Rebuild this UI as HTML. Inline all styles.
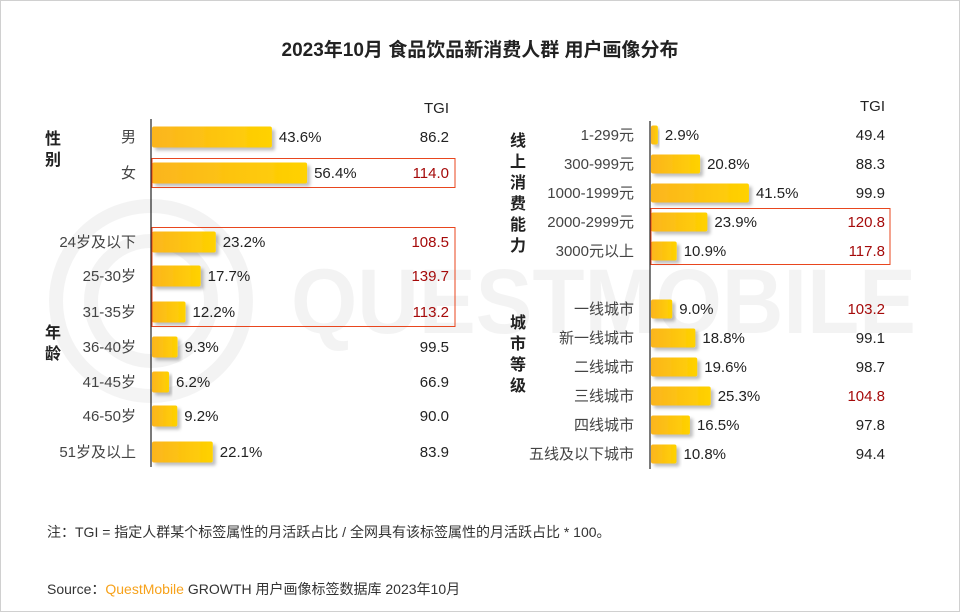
<!DOCTYPE html>
<html><head><meta charset="utf-8">
<style>
body{margin:0;background:#fff;}
#wrap{position:relative;width:958px;height:610px;border:1px solid #d0d0d0;overflow:hidden;font-family:"Liberation Sans","Noto Sans CJK SC",sans-serif;}
svg text{font-family:"Liberation Sans","Noto Sans CJK SC",sans-serif;}
</style></head>
<body>
<div id="wrap">
<svg id="chart" width="958" height="610">
<defs>
<linearGradient id="bg" x1="0" x2="1" y1="0" y2="0"><stop offset="0" stop-color="#fbb51f"/><stop offset="1" stop-color="#ffd200"/></linearGradient>
<filter id="sh" x="-10%" y="-20%" width="130%" height="160%"><feDropShadow dx="3" dy="3" stdDeviation="1.5" flood-color="#000" flood-opacity="0.25"/></filter>
</defs>
<g opacity="0.045">
<circle cx="150" cy="300" r="95" fill="none" stroke="#000" stroke-width="14"/>
<circle cx="150" cy="300" r="60" fill="none" stroke="#000" stroke-width="14"/>
<text x="290" y="332" font-size="92" fill="#000" font-weight="bold" textLength="625" lengthAdjust="spacingAndGlyphs">QUESTMOBILE</text>
</g>
<text x="479" y="55" text-anchor="middle" font-size="19" font-weight="bold" fill="#222">2023年10月 食品饮品新消费人群 用户画像分布</text>
<g id="plot"></g>
<text x="46" y="536" font-size="14" fill="#333">注：TGI = 指定人群某个标签属性的月活跃占比 / 全网具有该标签属性的月活跃占比 * 100。</text>
<text x="46" y="593" font-size="14" fill="#333">Source：<tspan fill="#f7a21b">QuestMobile</tspan> GROWTH 用户画像标签数据库 2023年10月</text>
</svg>
</div>
<script>
const leftCats=["男","女","24岁及以下","25-30岁","31-35岁","36-40岁","41-45岁","46-50岁","51岁及以上"];
const leftVals=[43.6,56.4,23.2,17.7,12.2,9.3,6.2,9.2,22.1];
const leftTgi=["86.2","114.0","108.5","139.7","113.2","99.5","66.9","90.0","83.9"];
const leftHi=[0,1,1,1,1,0,0,0,0];
const rightCats=["1-299元","300-999元","1000-1999元","2000-2999元","3000元以上","一线城市","新一线城市","二线城市","三线城市","四线城市","五线及以下城市"];
const rightVals=[2.9,20.8,41.5,23.9,10.9,9.0,18.8,19.6,25.3,16.5,10.8];
const rightTgi=["49.4","88.3","99.9","120.8","117.8","103.2","99.1","98.7","104.8","97.8","94.4"];
const rightHi=[0,0,0,1,1,1,0,0,1,0,0];
const NS="http://www.w3.org/2000/svg";
const plot=document.getElementById('plot');
function mk(t,a,p){const e=document.createElementNS(NS,t);for(const k in a)e.setAttribute(k,a[k]);(p||plot).appendChild(e);return e;}
function panel(cats,vals,tgi,hi,o){
  const g=mk('g',{});
  
  
  const x=v=>o.x0+v*o.scale;
  const ax=mk('line',{x1:o.x0,x2:o.x0,y1:o.ay0,y2:o.ay1,stroke:'#222','stroke-width':1.2},g);
  
  
  const th=mk('text',{x:o.tx,y:o.ys[0]-24,'text-anchor':'end','font-size':15,fill:'#222'},g);th.textContent='TGI';
  
  
  cats.forEach((c,i)=>{
    const y=o.ys[i];
    const r=mk('rect',{x:o.x0+1,y:y-o.bh/2,width:x(vals[i])-o.x0,height:o.bh,rx:2,fill:'url(#bg)',filter:'url(#sh)'},g);
    
    
    const l=mk('text',{x:o.lx,y:y+5,'text-anchor':'end','font-size':15,fill:'#444'},g);l.textContent=c;
    
    
    const v=mk('text',{x:x(vals[i])+8,y:y+5,'font-size':15,fill:'#222'},g);v.textContent=vals[i].toFixed(1)+'%';
    
    
    const t=mk('text',{x:o.tx,y:y+5,'text-anchor':'end','font-size':15,fill:hi[i]?'#a50a0a':'#222'},g);t.textContent=tgi[i];
    
    
  });
  o.boxes.forEach(b=>{
    const r=mk('rect',{x:o.x0+1,y:o.ys[b[0]]-o.bh/2-4,width:o.bw,height:o.ys[b[1]]-o.ys[b[0]]+o.bh+8,fill:'none',stroke:'#e8461e','stroke-width':1},g);
    
    
  });
  o.groups.forEach(gr=>{
    const txt=mk('text',{x:gr.x,'font-size':16,'font-weight':'bold',fill:'#222'},g);
    
    
    [...gr.t].forEach((ch,k)=>{const s=mk('tspan',{x:gr.x,y:gr.y+k*21},txt);s.textContent=ch;});
  });
}
panel(leftCats,leftVals,leftTgi,leftHi,{name:'left-panel',x0:150,scale:2.75,ay0:118,ay1:466,tx:448,lx:135,bh:21,bw:303,
  ys:[136,172,241,275,311,346,381,415,451],boxes:[[1,1],[2,4]],
  groups:[{x:44,y:143,t:'性别'},{x:44,y:337,t:'年龄'}]});
panel(rightCats,rightVals,rightTgi,rightHi,{name:'right-panel',x0:649,scale:2.36,ay0:120,ay1:468,tx:884,lx:633,bh:19,bw:239,
  ys:[134,163,192,221,250,308,337,366,395,424,453],boxes:[[3,4]],
  groups:[{x:509,y:145,t:'线上消费能力'},{x:509,y:327,t:'城市等级'}]});
</script>
</body></html>
